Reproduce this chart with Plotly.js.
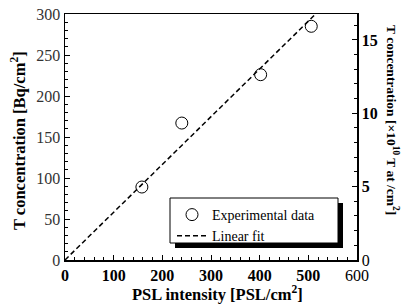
<!DOCTYPE html>
<html>
<head>
<meta charset="utf-8">
<script src="https://cdn.plot.ly/plotly-3.0.1.min.js"></script>
<style>html,body{margin:0;padding:0;background:#fff;}#chart{width:405px;height:306px;}</style>
</head>
<body>
<div id="chart"></div>
<script>
// Data
const pslIntensity = [158, 240, 402, 506];
const tConcentration = [89, 167, 226, 285];
const fitX = [0, 515];
const fitY = [0, 300];
const xTickVals = [0, 100, 200, 300, 400, 500, 600];
const xTickText = ['<b>0</b>', '<b>100</b>', '<b>200</b>', '<b>300</b>', '<b>400</b>', '<b>500</b>', '600'];
const yTickVals = [0, 50, 100, 150, 200, 250, 300];
const y2TickVals = [0, 5, 10, 15];
const y2TickText = ['0', '<b>5</b>', '<b>10</b>', '<b>15</b>'];

const L = 65, R = 357, T = 14, B = 260;
const W = R - L, H = B - T;
const px = v => (v - L) / W;
const py = v => (B - v) / H;

const font = 'Liberation Serif';

const traces = [
  {
    x: pslIntensity, y: tConcentration, type: 'scatter', mode: 'markers',
    name: 'Experimental data',
    marker: {symbol: 'circle-open', size: 12, color: '#000', line: {width: 1, color: '#000'}},
    xaxis: 'x', yaxis: 'y'
  },
  {
    x: fitX, y: fitY, type: 'scatter', mode: 'lines',
    name: 'Linear fit',
    line: {color: '#000', width: 1.5, dash: '5px,3px'},
    xaxis: 'x', yaxis: 'y'
  },
  {
    x: [0], y: [0], type: 'scatter', mode: 'markers', showlegend: false,
    marker: {opacity: 0}, hoverinfo: 'skip', xaxis: 'x', yaxis: 'y2'
  }
];

const layout = {
  width: 405, height: 306,
  margin: {l: L, r: 405 - R, t: T, b: 306 - B},
  paper_bgcolor: '#fff', plot_bgcolor: '#fff',
  font: {family: font, size: 14, color: '#000'},
  showlegend: true,
  legend: {
    x: px(172), y: py(199), xanchor: 'left', yanchor: 'top',
    bgcolor: 'rgba(0,0,0,0)', borderwidth: 0,
    font: {family: font, size: 14, color: '#000'},
    tracegroupgap: 0
  },
  xaxis: {
    range: [0, 600], tickvals: xTickVals, ticktext: xTickText,
    ticks: 'inside', ticklen: 5, tickwidth: 1, tickcolor: '#000',
    minor: {dtick: 20, ticks: 'inside', ticklen: 3, tickwidth: 1, tickcolor: '#000'},
    showline: true, linecolor: '#000', linewidth: 1.5, mirror: true,
    showgrid: false, zeroline: false,
    tickfont: {family: font, size: 16, color: '#000'}
  },
  yaxis: {
    range: [0, 300], tickvals: yTickVals,
    ticks: 'inside', ticklen: 5, tickwidth: 1, tickcolor: '#000',
    minor: {dtick: 10, ticks: 'inside', ticklen: 3, tickwidth: 1, tickcolor: '#000'},
    showline: true, linecolor: '#000', linewidth: 1.5,
    showgrid: false, zeroline: false,
    tickfont: {family: font, size: 16, color: '#333'}
  },
  yaxis2: {
    overlaying: 'y', side: 'right', range: [0, 16.77],
    tickvals: y2TickVals, ticktext: y2TickText,
    ticks: 'inside', ticklen: 5, tickwidth: 1, tickcolor: '#000',
    minor: {dtick: 1, ticks: 'inside', ticklen: 3, tickwidth: 1, tickcolor: '#000'},
    showline: true, linecolor: '#000', linewidth: 1.5,
    showgrid: false, zeroline: false,
    tickfont: {family: font, size: 16, color: '#000'}
  },
  shapes: [
    {type: 'rect', xref: 'paper', yref: 'paper', x0: px(175), x1: px(343), y0: py(248), y1: py(203),
     fillcolor: '#000', line: {width: 0}},
    {type: 'rect', xref: 'paper', yref: 'paper', x0: px(170), x1: px(338), y0: py(243), y1: py(198),
     fillcolor: '#fff', line: {width: 1, color: '#000'}}
  ],
  annotations: [
    {text: '<b>PSL intensity [PSL/cm<sup>2</sup>]</b>', xref: 'paper', yref: 'paper',
     x: px(217), y: py(293), xanchor: 'center', yanchor: 'middle', showarrow: false,
     font: {family: font, size: 16.5, color: '#000'}},
    {text: '<b>T concentration [Bq/cm<sup>2</sup>]</b>', xref: 'paper', yref: 'paper',
     x: px(18), y: py(141), xanchor: 'center', yanchor: 'middle', showarrow: false, textangle: -90,
     font: {family: font, size: 16.5, color: '#000'}},
    {text: '<b>T concentration [×10<sup>10</sup> T at /cm<sup>2</sup>]</b>', xref: 'paper', yref: 'paper',
     x: px(393), y: py(120), xanchor: 'center', yanchor: 'middle', showarrow: false, textangle: 90,
     font: {family: font, size: 13.5, color: '#000'}}
  ]
};

Plotly.newPlot('chart', traces, layout, {displayModeBar: false, staticPlot: true});
</script>
</body>
</html>
